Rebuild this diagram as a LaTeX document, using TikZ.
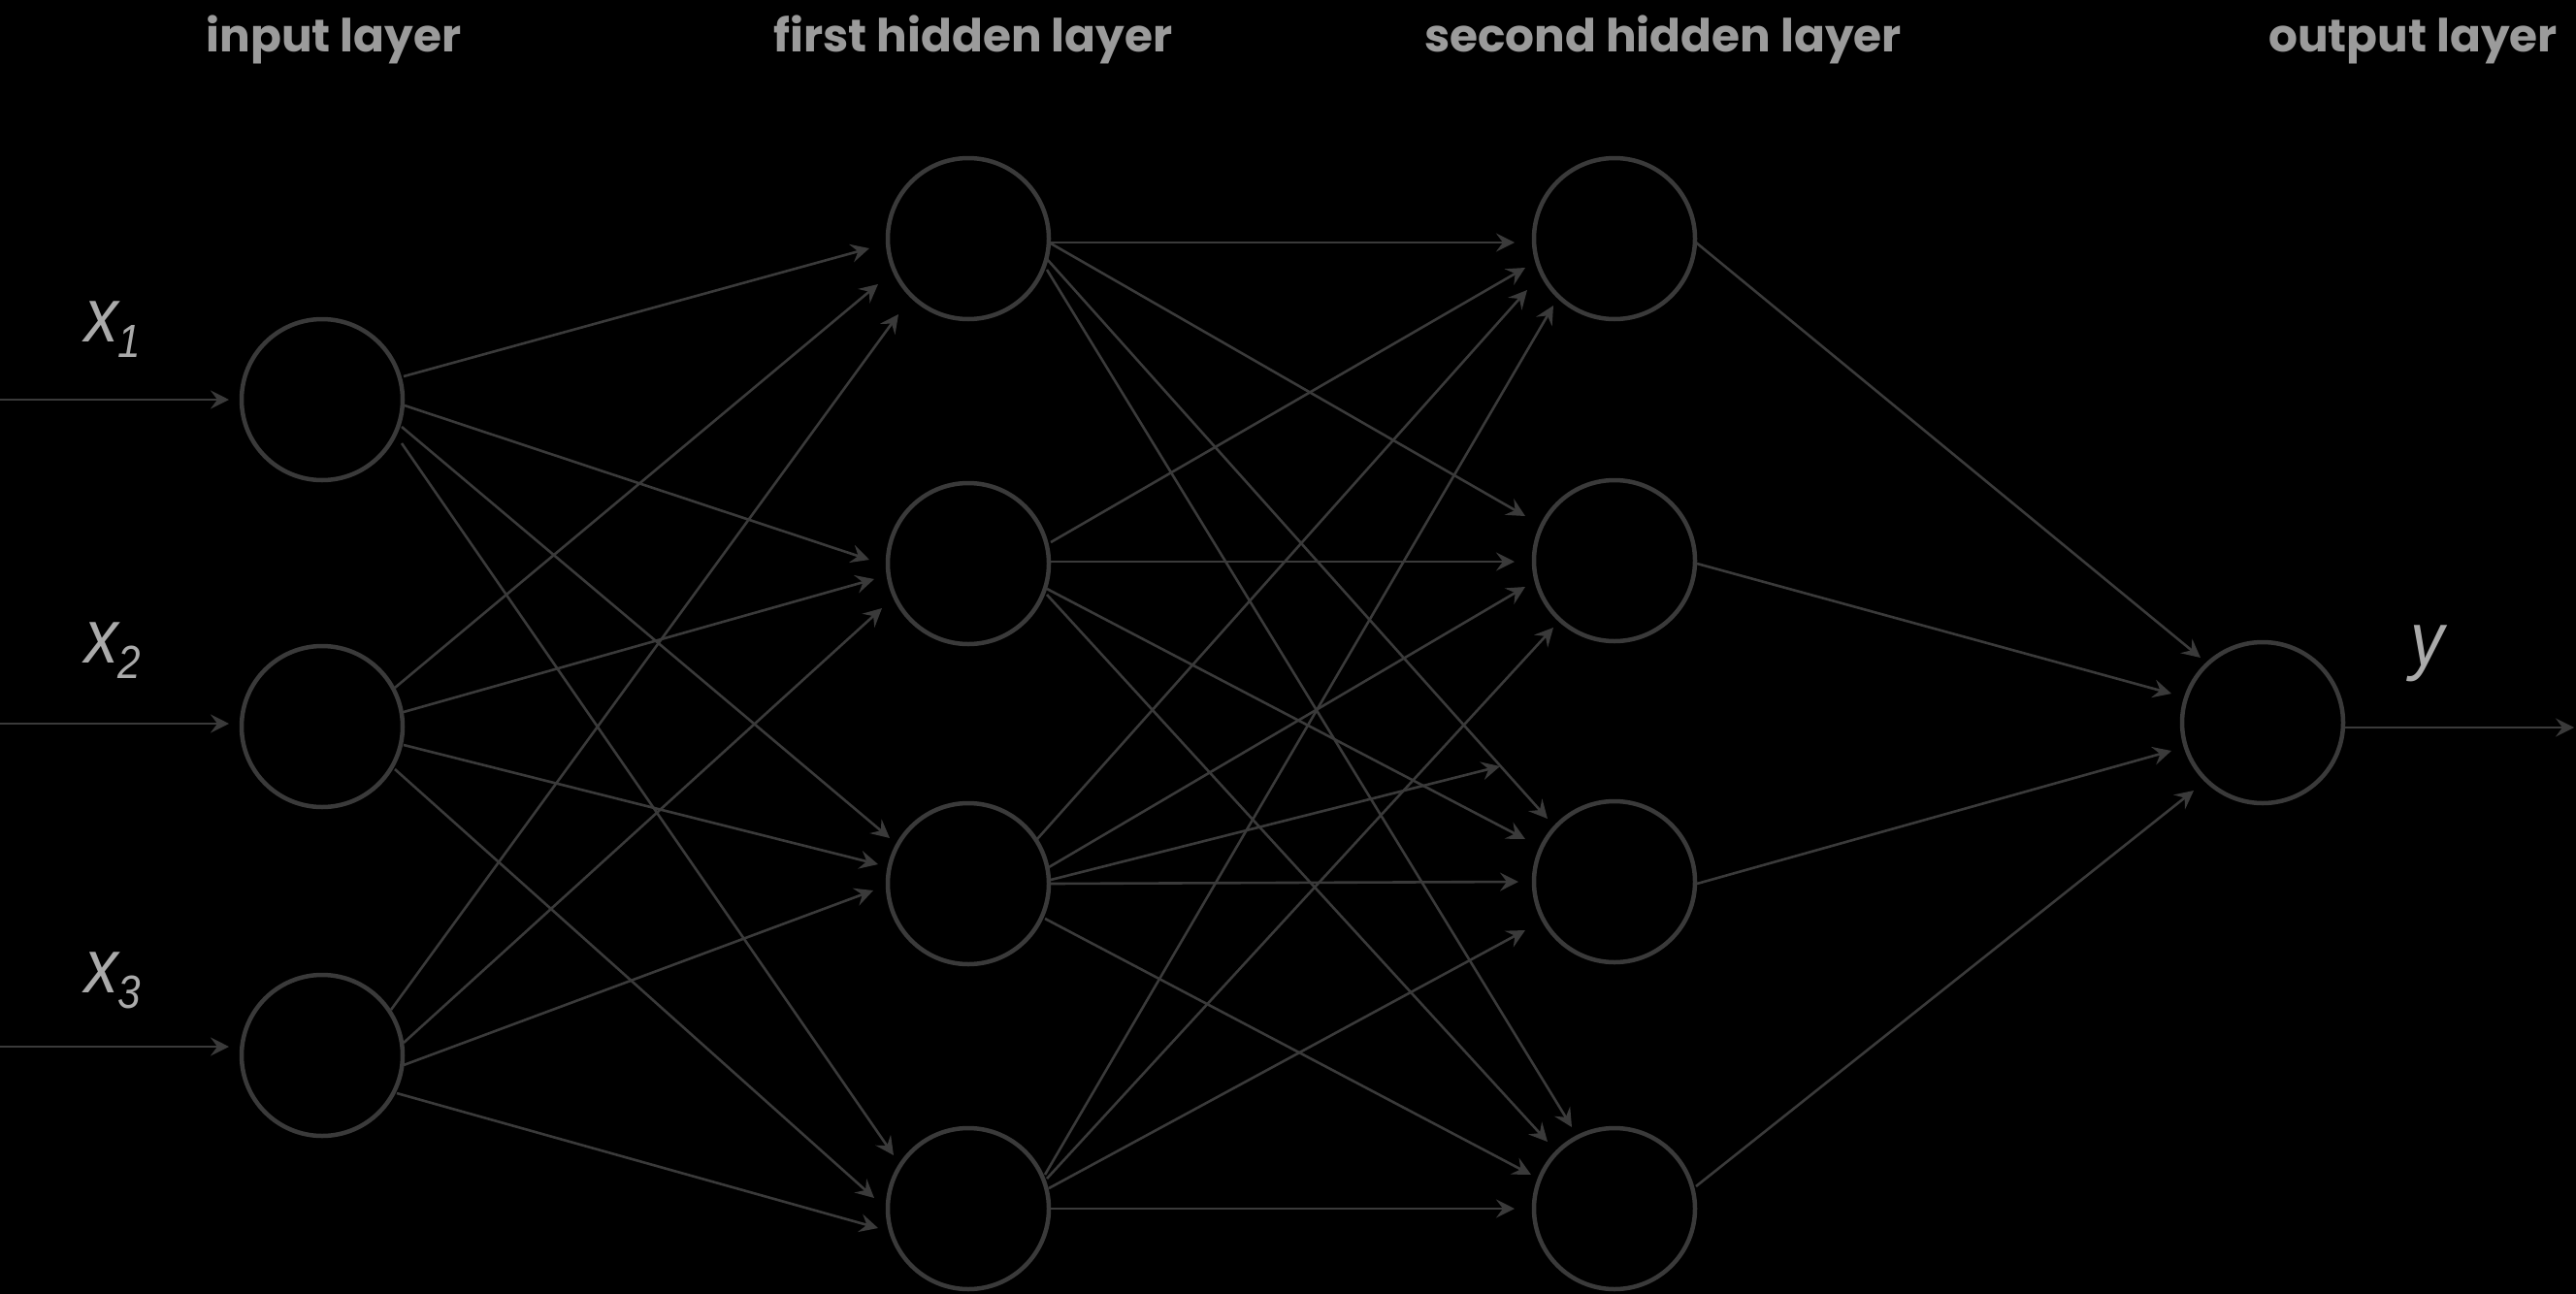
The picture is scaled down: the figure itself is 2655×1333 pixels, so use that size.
\documentclass[tikz,border=0pt]{standalone}
\usepackage{fontspec}
\usetikzlibrary{arrows.meta,calc}
\newfontfamily\headfont{Poppins}
\newfontfamily\labfont{Liberation Sans}[FakeStretch=0.88]
\definecolor{edgegray}{RGB}{58,58,58}
\definecolor{headgray}{RGB}{155,155,155}
\definecolor{labgray}{RGB}{170,170,170}
\newcommand\lowsub[1]{\raisebox{-16pt}{\fontsize{48}{48}\selectfont #1}}
\newcommand\link[4]{\draw[conn] ($(#1.center)+(#2)$) -- ($(#3.center)+(#4)$);}
\begin{document}
\begin{tikzpicture}[x=1pt,y=-1pt,
  neuron/.style={circle,draw=edgegray,line width=4.5pt,minimum size=166pt,inner sep=0pt},
  conn/.style={draw=edgegray,line width=2.6pt,-{Stealth[length=19pt,width=19pt,inset=7pt]}},
  head/.style={text=headgray,font=\headfont\bfseries\fontsize{47}{47}\selectfont,anchor=base,inner sep=0pt},
  varlab/.style={text=labgray,font=\labfont\itshape\fontsize{79}{79}\selectfont,anchor=base west,inner sep=0pt}]
\useasboundingbox (0,0) rectangle (2655,1333);
\fill[black] (-10,-10) rectangle (2665,1343);

% headings
\node[head] (hin) at (344,53) {input layer};
\node[head] (hh1) at (1003,53) {first hidden layer};
\node[head] (hh2) at (1714,53) {second hidden layer};
\node[head] (hout) at (2487,53) {output layer};

% neurons
\node[neuron] (in1) at (332,412) {};
\node[neuron] (in2) at (332,749) {};
\node[neuron] (in3) at (332,1088) {};
\node[neuron] (h1a) at (998,246) {};
\node[neuron] (h1b) at (998,581) {};
\node[neuron] (h1c) at (998,911) {};
\node[neuron] (h1d) at (998,1246) {};
\node[neuron] (h2a) at (1664,246) {};
\node[neuron] (h2b) at (1664,578) {};
\node[neuron] (h2c) at (1664,909) {};
\node[neuron] (h2d) at (1664,1246) {};
\node[neuron] (out) at (2332,745) {};

% variable labels
\node[varlab] (lx1) at (87,352) {x\lowsub{1}};
\node[varlab] (lx2) at (87,683) {x\lowsub{2}};
\node[varlab] (lx3) at (87,1023) {x\lowsub{3}};
\node[varlab] (ly) at (2484,686) {y};

% inputs and output
\coordinate (src1) at (0,412);
\coordinate (src2) at (0,746);
\coordinate (src3) at (0,1079);
\coordinate (sink) at (2653,750);
\draw[conn] (src1) -- ($(in1.center)+(-96,0)$);
\draw[conn] (src2) -- ($(in2.center)+(-96,-3)$);
\draw[conn] (src3) -- ($(in3.center)+(-96,-9)$);
\draw[conn] ($(out.center)+(85,5)$) -- (sink);

% input -> first hidden
\link{in1}{84,-24}{h1a}{-102,10}
\link{in1}{85,6}{h1b}{-102,-4}
\link{in1}{82,28}{h1c}{-81,-47}
\link{in1}{82,45}{h1d}{-77,-55}
\link{in2}{75,-40}{h1a}{-93,47}
\link{in2}{84,-15}{h1b}{-97,16}
\link{in2}{84,19}{h1c}{-93,-20}
\link{in2}{75,44}{h1d}{-97,-11}
\link{in3}{71,-47}{h1a}{-72,78}
\link{in3}{84,-13}{h1b}{-89,46}
\link{in3}{84,10}{h1c}{-98,7}
\link{in3}{77,39}{h1d}{-93,20}

% first hidden -> second hidden
\link{h1a}{83,4}{h2a}{-103,4}
\link{h1a}{85,5}{h2b}{-92,-46}
\link{h1a}{81,21}{h2c}{-69,-65}
\link{h1a}{81,32}{h2d}{-44,-84}
\link{h1b}{85,-22}{h2a}{-92,30}
\link{h1b}{85,-2}{h2b}{-103,1}
\link{h1b}{81,26}{h2c}{-92,-44}
\link{h1b}{81,32}{h2d}{-69,-69}
\link{h1c}{71,-46}{h2a}{-90,53}
\link{h1c}{83,-17}{h2b}{-92,27}
\coordinate (stray) at (1546,790);
\draw[conn] ($(h1c.center)+(85,-4)$) -- (stray);
\link{h1c}{85,0}{h2c}{-99,0}
\link{h1c}{79,36}{h2d}{-86,-35}
\link{h1d}{79,-35}{h2a}{-63,69}
\link{h1d}{81,-31}{h2b}{-63,69}
\link{h1d}{83,-21}{h2c}{-92,50}
\link{h1d}{85,0}{h2d}{-103,0}

% second hidden -> output
\link{h2a}{84,4}{out}{-64,-67}
\link{h2b}{85,3}{out}{-94,-30}
\link{h2c}{85,2}{out}{-94,29}
\link{h2d}{84,-23}{out}{-71,70}
\end{tikzpicture}
\end{document}
